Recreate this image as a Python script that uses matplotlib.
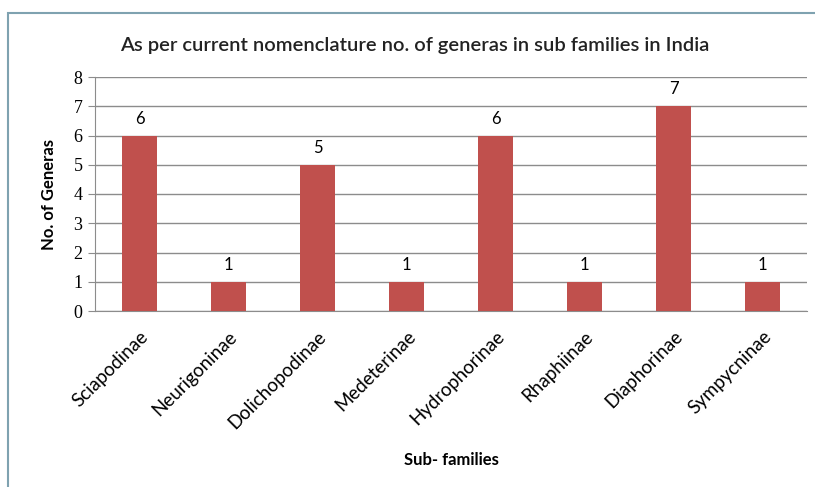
import matplotlib
matplotlib.use("Agg")
import matplotlib.pyplot as plt
from matplotlib.patches import Rectangle

subfamilies = ["Sciapodinae", "Neurigoninae", "Dolichopodinae", "Medeterinae",
               "Hydrophorinae", "Rhaphiinae", "Diaphorinae", "Sympycninae"]
genera = [6, 1, 5, 1, 6, 1, 7, 1]
yticks = [0, 1, 2, 3, 4, 5, 6, 7, 8]

plt.rcParams['font.family'] = ['Lato', 'DejaVu Sans']

fig = plt.figure(figsize=(8.15, 4.87), dpi=100)
ax = fig.add_axes([95/815, 1 - 311/487, 712/815, 234/487])

# outer frame of the chart area
fig.patches.append(Rectangle((8/815, -0.1), 1.2, 1 - 13/487 + 0.1,
                             transform=fig.transFigure, fill=False,
                             edgecolor="#7fa2b0", linewidth=1.5))

x = list(range(len(subfamilies)))
bars = ax.bar(x, genera, width=0.4, color="#c0504d", zorder=3)
for xi, v in zip(x, genera):
    ax.text(xi, v + 0.3, str(v), ha="center", va="bottom", fontsize=12)

ax.set_xlim(-0.5, len(subfamilies) - 0.5)
ax.set_ylim(0, 8)
ax.set_yticks(yticks)
ax.set_yticklabels([str(t) for t in yticks], family="Liberation Serif", fontsize=13)
ax.yaxis.grid(True, color="#8c8c8c", linewidth=1, zorder=0)
ax.tick_params(axis="y", length=5, color="#8c8c8c", pad=4)
ax.set_xticks(x)
ax.set_xticklabels(subfamilies, rotation=45, ha="right", rotation_mode="anchor", fontsize=13.5)
ax.tick_params(axis="x", length=0, pad=12)

for s in ["top", "right"]:
    ax.spines[s].set_visible(False)
for s in ["left", "bottom"]:
    ax.spines[s].set_color("#8c8c8c")

ax.set_ylabel("No. of Generas", fontsize=12, fontweight="bold", labelpad=12)
ax.set_xlabel("Sub- families", fontsize=12, fontweight="bold", labelpad=15)
fig.text(415/815, 1 - 45/487, "As per current nomenclature no. of generas in sub families in India",
         ha="center", va="center", fontsize=14.5, fontweight="semibold", color="#222222")

fig.savefig("out.png", dpi=100)
